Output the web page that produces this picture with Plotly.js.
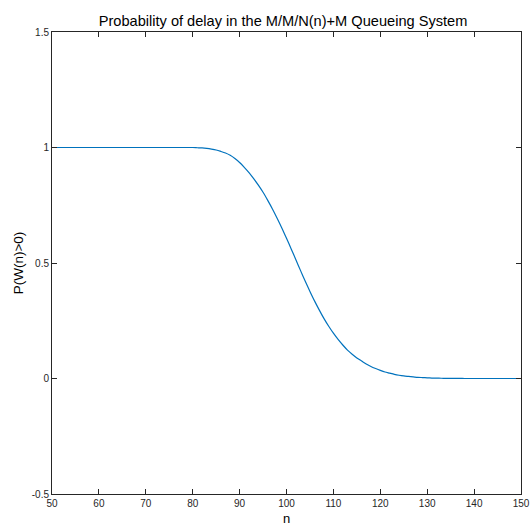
<!DOCTYPE html>
<html>
<head>
<meta charset="utf-8">
<script src="https://cdn.plot.ly/plotly-3.0.1.min.js"></script>
<style>html,body{margin:0;padding:0;background:#fff;}#chart{width:530px;height:526px;}</style>
</head>
<body>
<div id="chart"></div>
<script>
const nValues = [50,51,52,53,54,55,56,57,58,59,60,61,62,63,64,65,66,67,68,69,70,71,72,73,74,75,76,77,78,79,80,
  81,82,83,84,85,86,87,88,89,90,91,92,93,94,95,96,97,98,99,100,
  101,102,103,104,105,106,107,108,109,110,111,112,113,114,115,116,117,118,119,120,
  121,122,123,124,125,126,127,128,129,130,131,132,133,134,135,136,137,138,139,140,
  141,142,143,144,145,146,147,148,149,150];
const pDelay = [1,1,1,1,1,1,1,1,1,1,1,1,1,1,1,1,1,1,1,1,1,1,1,1,1,1,1,1,1,1,1,
  0.999,0.998,0.996,0.993,0.989,0.983,0.976,0.966,0.952,0.935,0.914,0.891,0.865,0.837,0.806,0.771,0.734,0.694,0.652,0.607,
  0.561,0.514,0.467,0.421,0.377,0.335,0.296,0.259,0.226,0.196,0.169,0.145,0.123,0.105,0.089,0.076,0.063,0.052,0.043,0.035,
  0.028,0.023,0.018,0.014,0.011,0.009,0.007,0.005,0.004,0.003,0.002,0.0015,0.001,0.0008,0.0005,0.0003,0.0002,0.0001,0.0001,0,
  0,0,0,0,0,0,0,0,0,0];
const xTicks = [50,60,70,80,90,100,110,120,130,140,150];
const yTicks = [-0.5,0,0.5,1,1.5];
const yTickText = ['-0.5','0','0.5','1','1.5'];
const xLabel = 'n';

const FONT = 'Liberation Sans, Arial, sans-serif';
const axisCommon = {
  showgrid:false, zeroline:false, showline:true, mirror:'ticks',
  linecolor:'#262626', linewidth:1, ticks:'inside', ticklen:5, tickcolor:'#262626',
  tickfont:{family:FONT, size:10, color:'#262626'}
};
const layout = {
  width:530, height:526,
  margin:{l:52, r:9, t:32, b:32},
  paper_bgcolor:'#ffffff', plot_bgcolor:'#ffffff',
  showlegend:false,
  title:{text:'Probability of delay in the M/M/N(n)+M Queueing System',
    font:{family:FONT, size:14.6, color:'#000'},
    x:0.534, xanchor:'center', y:0.96, yanchor:'middle'},
  xaxis:Object.assign({}, axisCommon, {range:[50,150], tickvals:xTicks, ticktext:xTicks.map(String)}),
  yaxis:Object.assign({}, axisCommon, {range:[-0.5,1.5], tickvals:yTicks, ticktext:yTickText,
    title:{text:'P(W(n)>0)', font:{family:FONT, size:13.5, color:'#000000'}, standoff:5}}),
  annotations:[{text:xLabel, xref:'paper', yref:'paper', x:0.5, y:-0.052, xanchor:'center', yanchor:'middle',
    showarrow:false, font:{family:FONT, size:13, color:'#000000'}}]
};
const trace = {x:nValues, y:pDelay, type:'scatter', mode:'lines',
  line:{color:'#0072BD', width:1.2, shape:'spline', smoothing:0.8}, hoverinfo:'none'};
Plotly.newPlot('chart', [trace], layout, {staticPlot:true, displayModeBar:false});
</script>
</body>
</html>
